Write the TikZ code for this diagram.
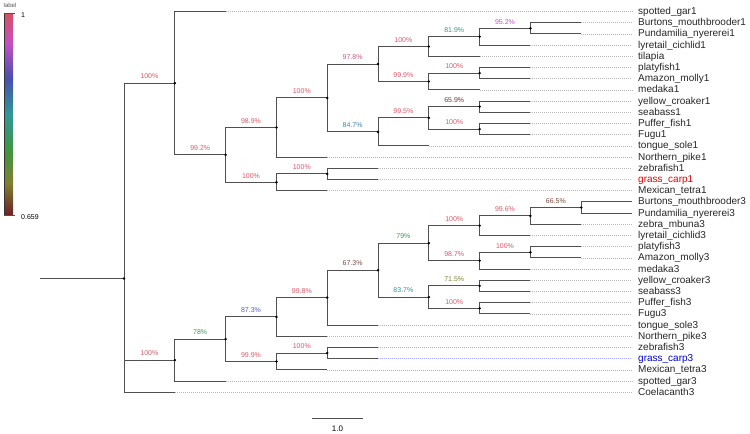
\documentclass[tikz,border=0pt]{standalone}
\usepackage{fontspec}
\setmainfont{Liberation Sans}
\usetikzlibrary{calc}

\definecolor{brc}{RGB}{80,80,80}
\definecolor{dotc}{RGB}{185,185,185}
\definecolor{sRed}{RGB}{220,88,104}
\definecolor{sPink}{RGB}{210,84,128}
\definecolor{sMag}{RGB}{196,86,196}
\definecolor{sBlue}{RGB}{82,96,176}
\definecolor{sTealb}{RGB}{62,132,164}
\definecolor{sTeal}{RGB}{52,146,156}
\definecolor{sGrTeal}{RGB}{54,152,128}
\definecolor{sGreen}{RGB}{62,150,92}
\definecolor{sOlive}{RGB}{126,132,52}
\definecolor{sBrown}{RGB}{122,72,60}
\definecolor{sDark}{RGB}{112,52,52}
\definecolor{barRed}{RGB}{216,80,96}
\definecolor{barMag}{RGB}{196,80,196}
\definecolor{barBlue}{RGB}{72,80,176}
\definecolor{barTeal}{RGB}{48,152,152}
\definecolor{barGreen}{RGB}{64,150,64}
\definecolor{barOlive}{RGB}{128,128,48}
\definecolor{barDark}{RGB}{110,32,40}

\pgfdeclareverticalshading{labelbar}{100bp}{color(0bp)=(barDark); color(25bp)=(barDark);
  color(33bp)=(barOlive); color(41bp)=(barGreen); color(50bp)=(barTeal);
  color(59bp)=(barBlue); color(67.5bp)=(barMag); color(75bp)=(barRed); color(100bp)=(barRed)}

\tikzset{
  branch/.style={draw=brc,line width=0.9bp},
  tipline/.style={draw=dotc,line width=0.6bp,dash pattern=on 1bp off 1bp},
  support/.style={anchor=south,inner sep=1bp,yshift=3bp,font=\fontsize{7bp}{8bp}\selectfont},
  leaf/.style={anchor=west,inner xsep=6bp,inner ysep=0pt,text height=7.5bp,text depth=1.5bp,
    text=black!85,font=\fontsize{10bp}{12bp}\selectfont}
}

\begin{document}
\begin{tikzpicture}[x=1bp,y=-1bp]

\useasboundingbox (0,0) rectangle (750,434);

% internal nodes
\coordinate (stem) at (40,278.55);
\coordinate (root) at (124,278.55);
\coordinate (A) at (174.8,83.2);
\coordinate (B) at (225.6,154.9);
\coordinate (C) at (276.4,127.5);
\coordinate (D) at (276.4,182.3);
\coordinate (E) at (327.2,173.9);
\coordinate (F) at (327.2,97.95);
\coordinate (G) at (378,64.0);
\coordinate (H) at (378,131.9);
\coordinate (I) at (428.8,46.5);
\coordinate (J) at (428.8,81.5);
\coordinate (K) at (479.6,36.7);
\coordinate (L) at (530.4,28.3);
\coordinate (M) at (479.6,73.1);
\coordinate (N) at (428.8,117.9);
\coordinate (O) at (479.6,106.7);
\coordinate (P) at (479.6,129.1);
\coordinate (Q) at (174.8,360.15);
\coordinate (R) at (225.6,339.2);
\coordinate (S) at (276.4,316.95);
\coordinate (T) at (276.4,361.5);
\coordinate (U) at (327.2,353.1);
\coordinate (V) at (327.2,297.6);
\coordinate (W) at (378,270.15);
\coordinate (X) at (428.8,243.2);
\coordinate (Y) at (428.8,297.1);
\coordinate (Z) at (479.6,225.7);
\coordinate (AA) at (479.6,260.7);
\coordinate (AB) at (530.4,215.9);
\coordinate (AC) at (581.2,207.5);
\coordinate (AD) at (530.4,252.3);
\coordinate (AE) at (479.6,285.9);
\coordinate (AF) at (479.6,308.3);

% leaf tips
\coordinate (gar1t) at (225.6,11.5);
\coordinate (bur1t) at (581.2,22.7);
\coordinate (pun1t) at (581.2,33.9);
\coordinate (lyr1t) at (530.4,45.1);
\coordinate (tilt) at (479.6,56.3);
\coordinate (pla1t) at (530.4,67.5);
\coordinate (ama1t) at (530.4,78.7);
\coordinate (med1t) at (479.6,89.9);
\coordinate (yel1t) at (530.4,101.1);
\coordinate (sea1t) at (530.4,112.3);
\coordinate (puf1t) at (530.4,123.5);
\coordinate (fug1t) at (530.4,134.7);
\coordinate (ton1t) at (428.8,145.9);
\coordinate (pik1t) at (327.2,157.1);
\coordinate (zeb1t) at (378,168.3);
\coordinate (gra1t) at (378,179.5);
\coordinate (mex1t) at (327.2,190.7);
\coordinate (mbu3t) at (581.2,224.3);
\coordinate (lyr3t) at (530.4,235.5);
\coordinate (pla3t) at (581.2,246.7);
\coordinate (ama3t) at (581.2,257.9);
\coordinate (med3t) at (530.4,269.1);
\coordinate (yel3t) at (530.4,280.3);
\coordinate (sea3t) at (530.4,291.5);
\coordinate (puf3t) at (530.4,302.7);
\coordinate (fug3t) at (530.4,313.9);
\coordinate (ton3t) at (378,325.1);
\coordinate (pik3t) at (327.2,336.3);
\coordinate (zeb3t) at (378,347.5);
\coordinate (gra3t) at (378,358.7);
\coordinate (mex3t) at (327.2,369.9);
\coordinate (gar3t) at (225.6,381.1);
\coordinate (coe3t) at (174.8,392.3);

% leaf labels
\node[leaf] (gar1) at (632,11.5) {spotted\_gar1};
\node[leaf] (bur1) at (632,22.7) {Burtons\_mouthbrooder1};
\node[leaf] (pun1) at (632,33.9) {Pundamilia\_nyererei1};
\node[leaf] (lyr1) at (632,45.1) {lyretail\_cichlid1};
\node[leaf] (til) at (632,56.3) {tilapia};
\node[leaf] (pla1) at (632,67.5) {platyfish1};
\node[leaf] (ama1) at (632,78.7) {Amazon\_molly1};
\node[leaf] (med1) at (632,89.9) {medaka1};
\node[leaf] (yel1) at (632,101.1) {yellow\_croaker1};
\node[leaf] (sea1) at (632,112.3) {seabass1};
\node[leaf] (puf1) at (632,123.5) {Puffer\_fish1};
\node[leaf] (fug1) at (632,134.7) {Fugu1};
\node[leaf] (ton1) at (632,145.9) {tongue\_sole1};
\node[leaf] (pik1) at (632,157.1) {Northern\_pike1};
\node[leaf] (zeb1) at (632,168.3) {zebrafish1};
\node[leaf,text=red!90!black] (gra1) at (632,179.5) {grass\_carp1};
\node[leaf] (mex1) at (632,190.7) {Mexican\_tetra1};
\node[leaf] (bur3) at (632,201.9) {Burtons\_mouthbrooder3};
\node[leaf] (pun3) at (632,213.1) {Pundamilia\_nyererei3};
\node[leaf] (mbu3) at (632,224.3) {zebra\_mbuna3};
\node[leaf] (lyr3) at (632,235.5) {lyretail\_cichlid3};
\node[leaf] (pla3) at (632,246.7) {platyfish3};
\node[leaf] (ama3) at (632,257.9) {Amazon\_molly3};
\node[leaf] (med3) at (632,269.1) {medaka3};
\node[leaf] (yel3) at (632,280.3) {yellow\_croaker3};
\node[leaf] (sea3) at (632,291.5) {seabass3};
\node[leaf] (puf3) at (632,302.7) {Puffer\_fish3};
\node[leaf] (fug3) at (632,313.9) {Fugu3};
\node[leaf] (ton3) at (632,325.1) {tongue\_sole3};
\node[leaf] (pik3) at (632,336.3) {Northern\_pike3};
\node[leaf] (zeb3) at (632,347.5) {zebrafish3};
\node[leaf,text=blue!85!black] (gra3) at (632,358.7) {grass\_carp3};
\node[leaf] (mex3) at (632,369.9) {Mexican\_tetra3};
\node[leaf] (gar3) at (632,381.1) {spotted\_gar3};
\node[leaf] (coe3) at (632,392.3) {Coelacanth3};

% dotted guides to the labels
\draw [tipline] (gar1t) -- (gar1.west) (bur1t) -- (bur1.west) (pun1t) -- (pun1.west)
	(lyr1t) -- (lyr1.west) (tilt) -- (til.west) (pla1t) -- (pla1.west)
	(ama1t) -- (ama1.west) (med1t) -- (med1.west) (yel1t) -- (yel1.west)
	(sea1t) -- (sea1.west) (puf1t) -- (puf1.west) (fug1t) -- (fug1.west)
	(ton1t) -- (ton1.west) (pik1t) -- (pik1.west) (zeb1t) -- (zeb1.west)
	(mex1t) -- (mex1.west) (mbu3t) -- (mbu3.west) (lyr3t) -- (lyr3.west)
	(pla3t) -- (pla3.west) (ama3t) -- (ama3.west) (med3t) -- (med3.west)
	(yel3t) -- (yel3.west) (sea3t) -- (sea3.west) (puf3t) -- (puf3.west)
	(fug3t) -- (fug3.west) (ton3t) -- (ton3.west) (pik3t) -- (pik3.west)
	(zeb3t) -- (zeb3.west) (mex3t) -- (mex3.west) (gar3t) -- (gar3.west)
	(coe3t) -- (coe3.west);
\draw [tipline,draw=red!35] (gra1t) -- (gra1.west);
\draw [tipline,draw=blue!35] (gra3t) -- (gra3.west);

% branches
\draw [branch] (stem) -- (root)
	(root) |- (A) (root) |- (Q) (root) |- (coe3t)
	(A) |- (gar1t) (A) |- (B)
	(B) |- (C) (B) |- (D)
	(C) |- (F) (C) |- (pik1t)
	(D) |- (E) (D) |- (mex1t)
	(E) |- (zeb1t) (E) |- (gra1t)
	(F) |- (G) (F) |- (H)
	(G) |- (I) (G) |- (J)
	(I) |- (K) (I) |- (tilt)
	(K) |- (L) (K) |- (lyr1t)
	(L) |- (bur1t) (L) |- (pun1t)
	(J) |- (M) (J) |- (med1t)
	(M) |- (pla1t) (M) |- (ama1t)
	(H) |- (N) (H) |- (ton1t)
	(N) |- (O) (N) |- (P)
	(O) |- (yel1t) (O) |- (sea1t)
	(P) |- (puf1t) (P) |- (fug1t)
	(Q) |- (R) (Q) |- (gar3t)
	(R) |- (S) (R) |- (T)
	(S) |- (V) (S) |- (pik3t)
	(V) |- (W) (V) |- (ton3t)
	(W) |- (X) (W) |- (Y)
	(X) |- (Z) (X) |- (AA)
	(Z) |- (AB) (Z) |- (lyr3t)
	(AB) |- (AC) (AB) |- (mbu3t)
	(AC) |- (bur3.west) (AC) |- (pun3.west)
	(AA) |- (AD) (AA) |- (med3t)
	(AD) |- (pla3t) (AD) |- (ama3t)
	(Y) |- (AE) (Y) |- (AF)
	(AE) |- (yel3t) (AE) |- (sea3t)
	(AF) |- (puf3t) (AF) |- (fug3t)
	(T) |- (U) (T) |- (mex3t)
	(U) |- (zeb3t) (U) |- (gra3t);

\fill (root) circle (1.4bp) (A) circle (1.4bp) (B) circle (1.4bp) (C) circle (1.4bp)
	(D) circle (1.4bp) (E) circle (1.4bp) (F) circle (1.4bp) (G) circle (1.4bp)
	(H) circle (1.4bp) (I) circle (1.4bp) (J) circle (1.4bp) (K) circle (1.4bp)
	(L) circle (1.4bp) (M) circle (1.4bp) (N) circle (1.4bp) (O) circle (1.4bp)
	(P) circle (1.4bp) (Q) circle (1.4bp) (R) circle (1.4bp) (S) circle (1.4bp)
	(T) circle (1.4bp) (U) circle (1.4bp) (V) circle (1.4bp) (W) circle (1.4bp)
	(X) circle (1.4bp) (Y) circle (1.4bp) (Z) circle (1.4bp) (AA) circle (1.4bp)
	(AB) circle (1.4bp) (AC) circle (1.4bp) (AD) circle (1.4bp) (AE) circle (1.4bp)
	(AF) circle (1.4bp);

% support values
\node[support,text=sRed] at ($(root |- A)!0.5!(A)$) {100\%};
\node[support,text=sRed] at ($(A |- B)!0.5!(B)$) {99.2\%};
\node[support,text=sRed] at ($(B |- C)!0.5!(C)$) {98.9\%};
\node[support,text=sRed] at ($(B |- D)!0.5!(D)$) {100\%};
\node[support,text=sRed] at ($(D |- E)!0.5!(E)$) {100\%};
\node[support,text=sRed] at ($(C |- F)!0.5!(F)$) {100\%};
\node[support,text=sPink] at ($(F |- G)!0.5!(G)$) {97.8\%};
\node[support,text=sTealb] at ($(F |- H)!0.5!(H)$) {84.7\%};
\node[support,text=sRed] at ($(G |- I)!0.5!(I)$) {100\%};
\node[support,text=sRed] at ($(G |- J)!0.5!(J)$) {99.9\%};
\node[support,text=sGrTeal] at ($(I |- K)!0.5!(K)$) {81.9\%};
\node[support,text=sMag] at ($(K |- L)!0.5!(L)$) {95.2\%};
\node[support,text=sRed] at ($(J |- M)!0.5!(M)$) {100\%};
\node[support,text=sRed] at ($(H |- N)!0.5!(N)$) {99.5\%};
\node[support,text=sDark] at ($(N |- O)!0.5!(O)$) {65.9\%};
\node[support,text=sRed] at ($(N |- P)!0.5!(P)$) {100\%};
\node[support,text=sRed] at ($(root |- Q)!0.5!(Q)$) {100\%};
\node[support,text=sGreen] at ($(Q |- R)!0.5!(R)$) {78\%};
\node[support,text=sBlue] at ($(R |- S)!0.5!(S)$) {87.3\%};
\node[support,text=sRed] at ($(R |- T)!0.5!(T)$) {99.9\%};
\node[support,text=sRed] at ($(T |- U)!0.5!(U)$) {100\%};
\node[support,text=sRed] at ($(S |- V)!0.5!(V)$) {99.8\%};
\node[support,text=sBrown] at ($(V |- W)!0.5!(W)$) {67.3\%};
\node[support,text=sGreen] at ($(W |- X)!0.5!(X)$) {79\%};
\node[support,text=sTeal] at ($(W |- Y)!0.5!(Y)$) {83.7\%};
\node[support,text=sRed] at ($(X |- Z)!0.5!(Z)$) {100\%};
\node[support,text=sPink] at ($(X |- AA)!0.5!(AA)$) {98.7\%};
\node[support,text=sRed] at ($(Z |- AB)!0.5!(AB)$) {99.6\%};
\node[support,text=sBrown] at ($(AB |- AC)!0.5!(AC)$) {66.5\%};
\node[support,text=sRed] at ($(AA |- AD)!0.5!(AD)$) {100\%};
\node[support,text=sOlive] at ($(Y |- AE)!0.5!(AE)$) {71.5\%};
\node[support,text=sRed] at ($(Y |- AF)!0.5!(AF)$) {100\%};

% colour key
\shade [shading=labelbar] (4,13.3) rectangle (13,215.5);
\draw [black!80,line width=0.8bp] (4,13.3) -- (4,215.5);
\draw [brc,line width=0.6bp] (4,13.3) -- (15,13.3) (4,215.5) -- (15,215.5);
\node [anchor=west,inner sep=0pt,text=brc,font=\fontsize{6bp}{7bp}\selectfont] at (3.5,5.5) {label};
\node [anchor=west,inner sep=0pt,font=\fontsize{7bp}{8bp}\selectfont] at (21,15) {1};
\node [anchor=west,inner sep=0pt,font=\fontsize{7bp}{8bp}\selectfont] at (21,217.5) {0.659};

% scale bar
\coordinate (sb1) at (312,418.3);
\coordinate (sb2) at (363,418.3);
\draw [branch] (sb1) -- (sb2);
\node [font=\fontsize{8bp}{9bp}\selectfont,inner sep=0pt] at ($(sb1)!0.5!(sb2)+(0,10)$) {1.0};

\end{tikzpicture}
\end{document}
